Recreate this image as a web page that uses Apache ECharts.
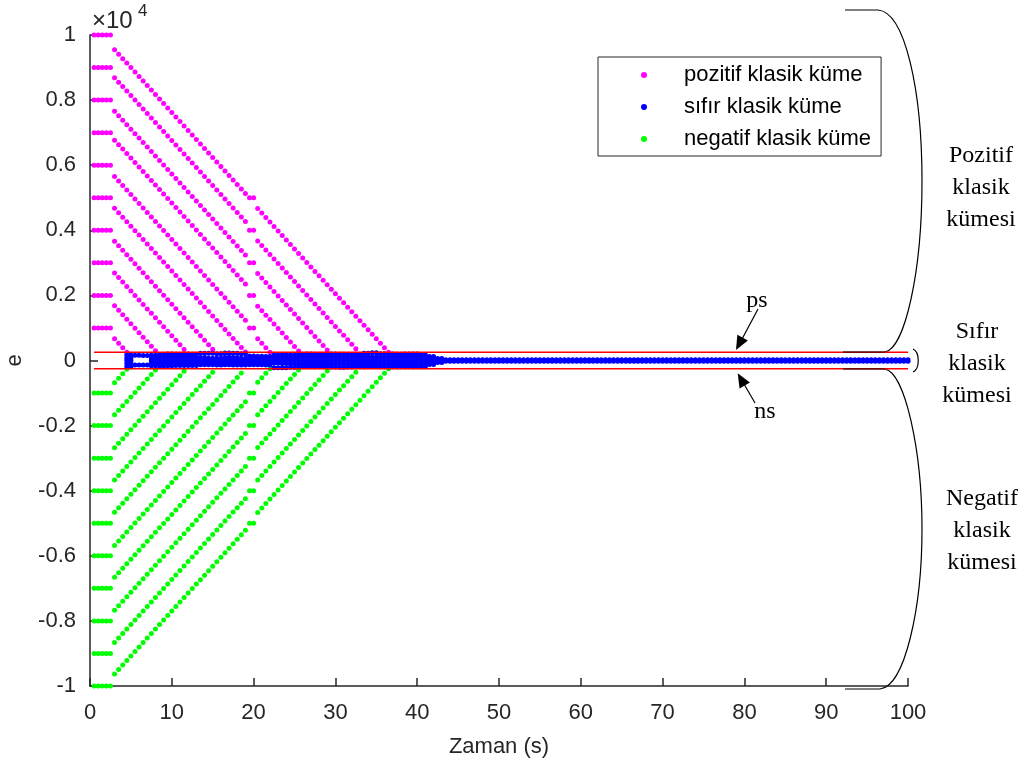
<!DOCTYPE html>
<html lang="tr">
<head>
<meta charset="UTF-8">
<title>Klasik kümeler</title>
<script src="https://cdn.jsdelivr.net/npm/echarts@6/dist/echarts.min.js"></script>
<style>html,body{margin:0;padding:0;background:#fff;}</style>
</head>
<body>
<div id="main" style="width:1028px;height:767px;"></div>
<script type="text/javascript">

// e sampled every 0.5 s, 10 pozitif and 10 negatif start levels
var sampleStep = 0.5;
var holdTimes = [0.5, 1, 1.5, 2, 2.5];
var startLevels = [1000, 2000, 3000, 4000, 5000, 6000, 7000, 8000, 9000, 10000];
// value at t = 3 s
var posFirst = [670, 1680, 2690, 3660, 4680, 5650, 6770, 7660, 8690, 9550];
var negFirst = [-680, -1670, -2680, -3670, -4660, -5680, -6660, -7670, -8660, -9630];
var stepPerSample = 138;
// lines still outside the band hold at (level - 5000) here, then go on
var restartTimes = [19.5, 20];
var restartShift = 5000;
var restartFirstDrop = 330;
var psLevel = 250;
var nsLevel = -250;

// sıfır band: one column per second, t = 5 ... 43 (null = gap)
var zeroRow1 = [170, 160, 150, 160, 180, 200, 190, 200, 190, 220, 220, 210, 230, 220, 210, 140, 130, 120, 170, 180,
                170, 190, 200, 190, 190, 200, 190, 180, 190, 220, 240, 210, 200, 190, 200, 200, 180, 120, 60];
var zeroRow2 = [80, null, null, 80, 90, 100, 100, 90, 100, 90, 70, 70, 100, 90, 70, 70, 60, 60, 80, 80,
                80, 100, 100, 100, 90, 100, 90, 70, 100, 110, 110, 100, 100, 100, 100, 100, 90, 50, 30];
var zeroRow3 = [0, null, null, 0, 0, 0, 0, 10, 0, 0, 10, 0, 0, 0, 0, 0, 0, 0, 0, 0,
                0, 0, 0, 0, 0, 0, 0, 0, 0, 0, 0, 0, 0, 0, 0, 0, 0, 0, 0];
var zeroRow4 = [-90, null, null, -80, -80, -70, -80, -80, -70, -70, -60, -60, -60, -70, -70, -70, -70, -70, -80, -90,
                -100, -100, -100, -90, -100, -100, -100, -100, -100, -100, -90, -100, -100, -100, -100, -100, -100, -50, -30];
var zeroRow5 = [-190, -140, -140, -160, -170, -160, -150, -150, -150, -130, -130, -140, -130, -140, -140, -130, -130, -140, -220, -220,
                -210, -190, -190, -190, -190, -200, -210, -200, -190, -190, -180, -190, -190, -190, -190, -190, -190, -120, -60];
var zeroFirstT = 5;
var tailRows = [20, -20];
var tailStart = 43.5, tailEnd = 100;

var xTicks = {min: 0, max: 100, interval: 10};
var yTicks = {min: -10000, max: 10000, interval: 2000};

function trajectory(level, first, sign) {
    var pts = [];
    holdTimes.forEach(function (t) { pts.push([t, level]); });
    var t = 3, v = first;
    while (t < restartTimes[0] && v * sign > psLevel) {
        pts.push([t, v]);
        v -= sign * stepPerSample;
        t += sampleStep;
    }
    if (v * sign > psLevel) {
        var v2 = level - sign * restartShift;
        restartTimes.forEach(function (rt) { pts.push([rt, v2]); });
        v = v2 - sign * restartFirstDrop;
        t = restartTimes[restartTimes.length - 1] + sampleStep;
        while (v * sign > psLevel) {
            pts.push([t, v]);
            v -= sign * stepPerSample;
            t += sampleStep;
        }
    }
    return pts;
}

var posData = [], negData = [], zeroData = [];
startLevels.forEach(function (lv, i) {
    posData = posData.concat(trajectory(lv, posFirst[i], 1));
    negData = negData.concat(trajectory(-lv, negFirst[i], -1));
});
[zeroRow1, zeroRow2, zeroRow3, zeroRow4, zeroRow5].forEach(function (row) {
    row.forEach(function (v, i) {
        if (v === null) return;
        var t = zeroFirstT + i;
        zeroData.push([t - sampleStep, v], [t, v]);
    });
});
for (var t = tailStart; t <= tailEnd; t += sampleStep) {
    tailRows.forEach(function (v) { zeroData.push([t, v]); });
}

var axisColor = '#262626';
var sans = 'Liberation Sans, Arial, sans-serif';
var serif = 'Liberation Serif, Times New Roman, serif';

function arrowHead(x0, y0, x1, y1) {
    var dx = x1 - x0, dy = y1 - y0, len = Math.sqrt(dx * dx + dy * dy);
    var ux = dx / len, uy = dy / len, bx = x1 - 14 * ux, by = y1 - 14 * uy;
    return [[x1, y1], [bx + 6 * uy, by - 6 * ux], [bx - 6 * uy, by + 6 * ux]];
}
var lineStyle = {stroke: '#000', lineWidth: 1.2, fill: null};

var myChart = echarts.init(document.getElementById('main'));
var option = {
    animation: false,
    backgroundColor: '#fff',
    grid: {left: 90, right: 120, top: 35, bottom: 81, containLabel: false, outerBoundsMode: 'none'},
    legend: {
        orient: 'vertical',
        left: 598, top: 57,
        padding: [7, 10, 6, 43],
        itemGap: 10, itemWidth: 6, itemHeight: 6,
        borderColor: axisColor, borderWidth: 1, backgroundColor: '#fff',
        textStyle: {fontSize: 22, lineHeight: 22, color: '#000', fontFamily: sans, padding: [0, 0, 0, 32]},
        data: [
            {name: 'pozitif klasik küme', icon: 'circle'},
            {name: 'sıfır klasik küme', icon: 'circle'},
            {name: 'negatif klasik küme', icon: 'circle'}
        ]
    },
    xAxis: {
        type: 'value', min: xTicks.min, max: xTicks.max, interval: xTicks.interval,
        name: 'Zaman (s)', nameLocation: 'middle', nameGap: 50,
        nameTextStyle: {fontSize: 22, color: axisColor, fontFamily: sans},
        axisLine: {onZero: false, lineStyle: {color: axisColor, width: 1.5}},
        axisTick: {inside: true, length: 8, lineStyle: {color: axisColor, width: 1.5}},
        axisLabel: {fontSize: 22, color: axisColor, margin: 16, fontFamily: sans},
        splitLine: {show: false}
    },
    yAxis: {
        type: 'value', min: yTicks.min, max: yTicks.max, interval: yTicks.interval,
        name: 'e', nameLocation: 'middle', nameGap: 64, nameRotate: 90,
        nameTextStyle: {fontSize: 22, color: axisColor, fontFamily: sans},
        axisLine: {onZero: false, lineStyle: {color: axisColor, width: 1.5}},
        axisTick: {inside: true, length: 8, lineStyle: {color: axisColor, width: 1.5}},
        axisLabel: {
            fontSize: 22, color: axisColor, margin: 14, fontFamily: sans,
            formatter: function (v) { return String(Math.round(v / 1000) / 10); }
        },
        splitLine: {show: false}
    },
    series: [
        {name: 'pozitif klasik küme', type: 'scatter', symbolSize: 5, data: posData,
         itemStyle: {color: '#ff00ff', opacity: 1}},
        {name: 'negatif klasik küme', type: 'scatter', symbolSize: 5, data: negData,
         itemStyle: {color: '#00ff00', opacity: 1}},
        {name: 'sıfır klasik küme', type: 'scatter', symbolSize: 5, data: zeroData,
         itemStyle: {color: '#0000ff', opacity: 1}},
        {name: 'ps', type: 'line', symbol: 'none', data: [[0.5, psLevel], [100, psLevel]],
         lineStyle: {color: '#ff0000', width: 1.5}, z: 5},
        {name: 'ns', type: 'line', symbol: 'none', data: [[0.5, nsLevel], [100, nsLevel]],
         lineStyle: {color: '#ff0000', width: 1.5}, z: 5}
    ],
    graphic: [
        {type: 'text', left: 92, top: 9, style: {text: '×10', fill: axisColor, font: '24px ' + sans}},
        {type: 'text', left: 138, top: 3, style: {text: '4', fill: axisColor, font: '17px ' + sans}},

        // Pozitif brace
        {type: 'line', shape: {x1: 845, y1: 10, x2: 878, y2: 10}, style: lineStyle},
        {type: 'bezierCurve', shape: {x1: 878, y1: 10, cpx1: 905, cpy1: 12, cpx2: 922, cpy2: 90, x2: 922, y2: 181}, style: lineStyle},
        {type: 'bezierCurve', shape: {x1: 922, y1: 181, cpx1: 922, cpy1: 272, cpx2: 905, cpy2: 348, x2: 885, y2: 352}, style: lineStyle},
        {type: 'line', shape: {x1: 885, y1: 352, x2: 843, y2: 352}, style: lineStyle, z: 10},
        // Sıfır brace
        {type: 'bezierCurve', shape: {x1: 913, y1: 349, cpx1: 920, cpy1: 352, cpx2: 920, cpy2: 369, x2: 913, y2: 372}, style: lineStyle},
        // Negatif brace
        {type: 'line', shape: {x1: 843, y1: 369, x2: 885, y2: 369}, style: lineStyle, z: 10},
        {type: 'bezierCurve', shape: {x1: 885, y1: 369, cpx1: 905, cpy1: 373, cpx2: 922, cpy2: 450, x2: 922, y2: 529}, style: lineStyle},
        {type: 'bezierCurve', shape: {x1: 922, y1: 529, cpx1: 922, cpy1: 608, cpx2: 905, cpy2: 686, x2: 880, y2: 689}, style: lineStyle},
        {type: 'line', shape: {x1: 880, y1: 689, x2: 845, y2: 689}, style: lineStyle},

        {type: 'text', x: 981, y: 140, style: {text: 'Pozitif\nklasik\nkümesi', font: '24px ' + serif, lineHeight: 32, align: 'center', fill: '#000'}},
        {type: 'text', x: 977, y: 316, style: {text: 'Sıfır\nklasik\nkümesi', font: '24px ' + serif, lineHeight: 32, align: 'center', fill: '#000'}},
        {type: 'text', x: 982, y: 483, style: {text: 'Negatif\nklasik\nkümesi', font: '24px ' + serif, lineHeight: 32, align: 'center', fill: '#000'}},

        // ps / ns arrows
        {type: 'text', x: 757, y: 289, style: {text: 'ps', font: '24px ' + serif, align: 'center', fill: '#000'}},
        {type: 'line', shape: {x1: 758, y1: 309, x2: 741, y2: 341}, style: {stroke: '#000', lineWidth: 1.2}},
        {type: 'polygon', shape: {points: arrowHead(758, 309, 736, 350)}, style: {fill: '#000'}},
        {type: 'text', x: 765, y: 400, style: {text: 'ns', font: '24px ' + serif, align: 'center', fill: '#000'}},
        {type: 'line', shape: {x1: 755, y1: 403, x2: 744, y2: 384}, style: {stroke: '#000', lineWidth: 1.2}},
        {type: 'polygon', shape: {points: arrowHead(755, 403, 737.7, 373.3)}, style: {fill: '#000'}}
    ]
};
myChart.setOption(option);
</script>
</body>
</html>
